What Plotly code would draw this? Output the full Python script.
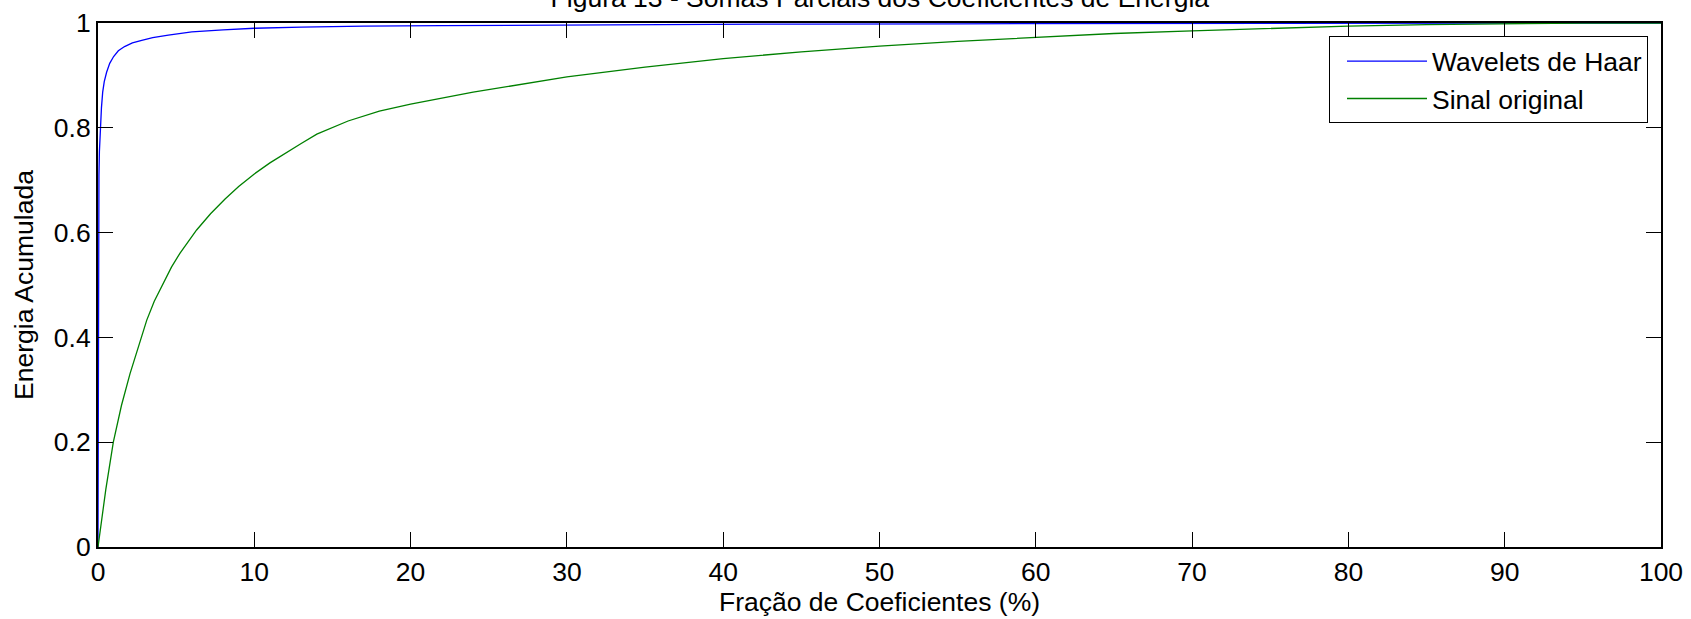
import plotly.graph_objects as go

# Data
haar_x = [0, 0.01, 0.02, 0.03, 0.045, 0.06, 0.09, 0.12, 0.16, 0.22, 0.3, 0.4, 0.55, 0.75,
          1.0, 1.3, 1.7, 2.2, 2.8, 3.5, 4.5, 6, 8, 10, 13, 17, 22, 28, 35, 45, 55, 70, 85, 100]
haar_y = [0, 0.30, 0.48, 0.58, 0.66, 0.71, 0.755, 0.78, 0.805, 0.838, 0.868, 0.888, 0.906, 0.923,
          0.936, 0.947, 0.955, 0.962, 0.967, 0.972, 0.977, 0.983, 0.987, 0.990, 0.992, 0.994,
          0.995, 0.996, 0.997, 0.998, 0.9985, 0.999, 0.9995, 1.0]

sinal_x = [0, 0.25, 0.5, 0.98, 1.5, 2.05, 2.6, 3.12, 3.6, 4.18, 4.7, 5.25, 5.8, 6.31, 7.2,
           8.13, 9, 10, 11, 12, 13, 14, 16, 18, 20, 24, 27.5, 30, 35, 40, 45, 50, 55, 60,
           65, 70, 75, 80, 85, 90, 95, 100]
sinal_y = [0, 0.06, 0.11, 0.2, 0.27, 0.331, 0.385, 0.433, 0.469, 0.505, 0.534, 0.561, 0.585,
           0.605, 0.636, 0.664, 0.688, 0.712, 0.733, 0.752, 0.77, 0.788, 0.813, 0.832, 0.845,
           0.868, 0.885, 0.897, 0.916, 0.932, 0.945, 0.956, 0.965, 0.973, 0.98, 0.985, 0.99,
           0.994, 0.997, 0.999, 1.0, 1.0]

x_ticks = [0, 10, 20, 30, 40, 50, 60, 70, 80, 90, 100]
y_ticks = [0, 0.2, 0.4, 0.6, 0.8, 1]
y_tick_labels = ["0", "0.2", "0.4", "0.6", "0.8", "1"]

title_text = "Figura 13 - Somas Parciais dos Coeficientes de Energia"
x_title = "Fração de Coeficientes (%)"
y_title = "Energia Acumulada"

FONT = "Liberation Sans, Arial, sans-serif"
FS = 26.5

fig = go.Figure()
fig.add_trace(go.Scatter(x=haar_x, y=haar_y, mode="lines", name="Wavelets de Haar",
                         line=dict(color="#0000FF", width=1.3)))
fig.add_trace(go.Scatter(x=sinal_x, y=sinal_y, mode="lines", name="Sinal original",
                         line=dict(color="#008000", width=1.3)))

axis_common = dict(showline=True, linecolor="black", linewidth=2, mirror="ticks",
                   ticks="inside", ticklen=15, tickwidth=1, tickcolor="black",
                   showgrid=False, zeroline=False, automargin=False,
                   tickfont=dict(family=FONT, size=FS, color="black"))

fig.update_layout(
    width=1691, height=619,
    margin=dict(l=98, r=30, t=23, b=72, autoexpand=False),
    paper_bgcolor="white", plot_bgcolor="white",
    font=dict(family=FONT, size=FS, color="black"),
    title=dict(text=title_text, x=0.5203, xanchor="center", xref="container",
               yref="container", y=(619 - 7) / 619, yanchor="bottom",
               font=dict(family=FONT, size=FS, color="black")),
    xaxis=dict(range=[0, 100], tickvals=x_ticks, ticktext=[str(v) for v in x_ticks],
               title=dict(text=x_title, standoff=5,
                          font=dict(family=FONT, size=FS, color="black")),
               **axis_common),
    yaxis=dict(range=[0, 1], tickvals=y_ticks, ticktext=y_tick_labels,
               title=dict(text=y_title, standoff=13,
                          font=dict(family=FONT, size=FS, color="black")),
               **axis_common),
    legend=dict(x=(1648 - 98) / 1563, xanchor="right", y=(546.7 - 36) / 524, yanchor="top",
                bgcolor="white", bordercolor="black", borderwidth=1,
                font=dict(family=FONT, size=FS, color="black"),
                itemwidth=80, tracegroupgap=0, indentation=12),
    showlegend=True,
)

fig.write_html("out.html", post_script="document.body.style.margin='0';",
               config={"displayModeBar": False})
